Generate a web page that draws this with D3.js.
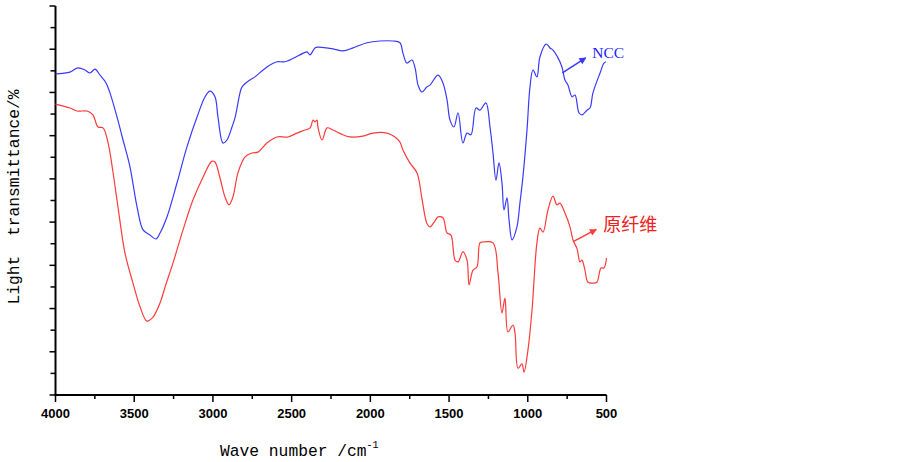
<!DOCTYPE html>
<html><head><meta charset="utf-8">
<script src="https://cdn.jsdelivr.net/npm/d3@7"></script>
<style>body{margin:0;background:#fff}svg{display:block}</style>
</head><body>
<script>
// Wavenumbers (cm^-1) and transmittance values
const nccWave = [4000,3908,3857,3813,3781,3749,3717,3679,3654,3609,3571,3527,3482,3444,3400,3362,3336,3292,3228,3165,3101,3050,3019,2987,2968,2936,2911,2879,2860,2828,2815,2765,2733,2657,2593,2543,2447,2403,2383,2352,2333,2237,2174,2110,2021,1939,1856,1812,1793,1768,1736,1716,1697,1672,1640,1621,1570,1539,1513,1494,1469,1443,1412,1386,1361,1329,1304,1266,1240,1221,1202,1183,1164,1151,1132,1119,1100,1069,1050,1031,1005,986,967,942,923,884,859,840,808,783,764,745,719,700,675,656,624,605,586,541,516,503];
const nccT = [74.3,74.7,75.7,75.2,74.5,75.4,74.0,72.2,69.9,64.3,59.0,52.8,43.5,38.2,37.0,36.1,37.5,41.2,49.1,57.4,64.3,69.0,70.3,69.0,64.3,58.3,59.0,62.0,64.1,69.9,71.3,72.9,73.6,75.9,77.1,77.1,78.7,79.4,78.7,80.3,80.5,80.1,79.6,80.3,81.5,81.9,81.9,81.5,79.1,76.8,77.5,75.7,71.7,70.1,71.3,71.7,74.0,72.2,68.3,63.6,62.0,65.3,58.3,60.6,60.2,66.4,65.9,67.6,62.0,56.0,49.7,53.7,49.1,42.8,45.6,40.5,35.9,38.9,44.4,50.4,61.3,71.3,75.2,73.6,78.2,81.2,80.3,79.8,78.0,75.9,72.9,71.7,69.0,69.4,65.3,64.8,65.9,66.4,69.9,74.5,76.8,77.1];

const fibWave = [4000,3908,3863,3800,3762,3730,3698,3667,3635,3603,3559,3508,3463,3419,3381,3336,3304,3254,3190,3127,3063,3006,2987,2955,2923,2898,2873,2841,2796,2752,2714,2657,2593,2523,2466,2415,2383,2364,2352,2339,2333,2307,2275,2237,2174,2129,2047,1983,1894,1844,1812,1793,1749,1704,1672,1640,1621,1589,1570,1539,1513,1488,1462,1443,1412,1386,1373,1348,1323,1304,1285,1221,1189,1164,1145,1126,1094,1081,1062,1037,1024,999,973,942,923,903,872,840,815,796,764,732,713,687,668,656,637,618,586,561,535,516,500];
const fibT = [67.3,66.4,65.7,65.7,64.8,62.0,61.8,58.5,51.6,43.5,32.9,25.9,20.4,17.1,18.0,21.3,25.0,30.5,38.2,45.1,50.4,54.1,53.9,50.2,45.8,44.0,45.8,51.4,55.1,56.0,56.2,58.3,59.7,59.7,60.6,61.3,61.8,63.6,63.2,63.6,62.0,59.0,61.8,61.3,60.2,59.7,59.9,60.6,60.6,59.7,58.5,56.7,53.7,51.4,45.4,39.6,38.9,40.3,41.2,41.0,37.5,37.0,31.2,30.8,33.1,31.2,25.5,28.9,29.6,35.2,35.4,35.2,28.2,19.0,22.4,14.6,16.2,14.3,6.2,7.2,5.3,10.4,19.7,35.2,38.6,37.7,42.8,46.0,44.0,44.4,42.1,38.9,35.9,33.8,30.8,31.2,28.9,26.1,25.9,26.1,29.4,29.4,31.7];

const xTicks = [4000,3500,3000,2500,2000,1500,1000,500];
const seriesNames = ["NCC","原纤维"];
const seriesColors = ["#3a3aff","#ff3a3a"];

const W = 900, H = 462;
const svg = d3.select("body").append("svg").attr("width",W).attr("height",H);

const x = d3.scaleLinear().domain([4000,500]).range([55.5,606.5]);
const y = d3.scaleLinear().domain([0,90]).range([395,6]);

const monoFont = "'Liberation Mono','DejaVu Sans Mono',monospace";

// X axis
const xAxis = svg.append("g").attr("transform","translate(0,395)");
xAxis.append("line").attr("x1",x(4000)-1).attr("x2",x(500)).attr("stroke","#000").attr("stroke-width",2);
const xAll = d3.range(4000,499,-250);
xAxis.selectAll("line.t").data(xAll).join("line").attr("class","t")
  .attr("x1",d=>x(d)).attr("x2",d=>x(d)).attr("y1",0)
  .attr("y2",d=>d%500===0?7:4).attr("stroke","#000").attr("stroke-width",1.5);
xAxis.selectAll("text").data(xTicks).join("text")
  .attr("x",d=>x(d)).attr("y",23).attr("text-anchor","middle")
  .attr("font-family","'Liberation Sans',Arial,sans-serif").attr("font-weight","bold")
  .attr("font-size",13).text(d=>d);

// Y axis (no labels)
const yAxis = svg.append("g").attr("transform","translate(55.5,0)");
yAxis.append("line").attr("y1",y(90)).attr("y2",y(0)+1).attr("stroke","#000").attr("stroke-width",2);
const yAll = d3.range(0,91,5);
yAxis.selectAll("line.t").data(yAll).join("line").attr("class","t")
  .attr("y1",d=>y(d)).attr("y2",d=>y(d)).attr("x1",0)
  .attr("x2",d=>d%10===0?-6:-5).attr("stroke","#000").attr("stroke-width",1.5);

// Axis titles
const xt = svg.append("text").attr("x",220).attr("y",456)
  .attr("font-family",monoFont).attr("font-size",16.3).attr("fill","#000");
xt.append("tspan").text("Wave number /cm");
xt.append("tspan").attr("font-size",10).attr("dy",-8).text("-1");

svg.append("text").attr("transform","translate(19,197) rotate(-90)")
  .attr("text-anchor","middle").attr("font-family",monoFont).attr("font-size",16.3)
  .attr("xml:space","preserve").style("white-space","pre")
  .text("Light  transmittance/%");

// Lines
const line = d3.line().x(d=>x(d[0])).y(d=>y(d[1])).curve(d3.curveCatmullRom.alpha(0.5));
const series = [d3.zip(nccWave,nccT), d3.zip(fibWave,fibT)];
svg.selectAll("path.s").data(series).join("path").attr("class","s")
  .attr("d",line).attr("fill","none")
  .attr("stroke",(d,i)=>seriesColors[i]).attr("stroke-width",1.2);

// Annotations with arrows
const defs = svg.append("defs");
seriesColors.forEach((c,i)=>{
  defs.append("marker").attr("id","ar"+i).attr("viewBox","0 0 10 10")
    .attr("refX",9).attr("refY",5).attr("markerWidth",9).attr("markerHeight",7)
    .attr("markerUnits","userSpaceOnUse").attr("orient","auto")
    .append("path").attr("d","M0,0 L10,5 L0,10 Z").attr("fill",c);
});
// anchor points in data space
const annFrom = [[780,74.5],[712,35.5]];
const annTo = [[632,78.0],[565,38.3]];
const annText = [[590,78.0],[520,38.0]];
seriesNames.forEach((n,i)=>{
  svg.append("line").attr("x1",x(annFrom[i][0])).attr("y1",y(annFrom[i][1]))
    .attr("x2",x(annTo[i][0])).attr("y2",y(annTo[i][1]))
    .attr("stroke",seriesColors[i]).attr("stroke-width",1.5).attr("marker-end","url(#ar"+i+")");
  svg.append("text").attr("x",x(annText[i][0])).attr("y",y(annText[i][1]))
    .attr("fill",i===0?"#2222ff":"#ee2020")
    .attr("font-family",i===0?"'Liberation Serif','Times New Roman',serif":"'Noto Sans CJK SC',sans-serif")
    .attr("font-size",i===0?15.5:18).text(n);
});
</script>
</body></html>
